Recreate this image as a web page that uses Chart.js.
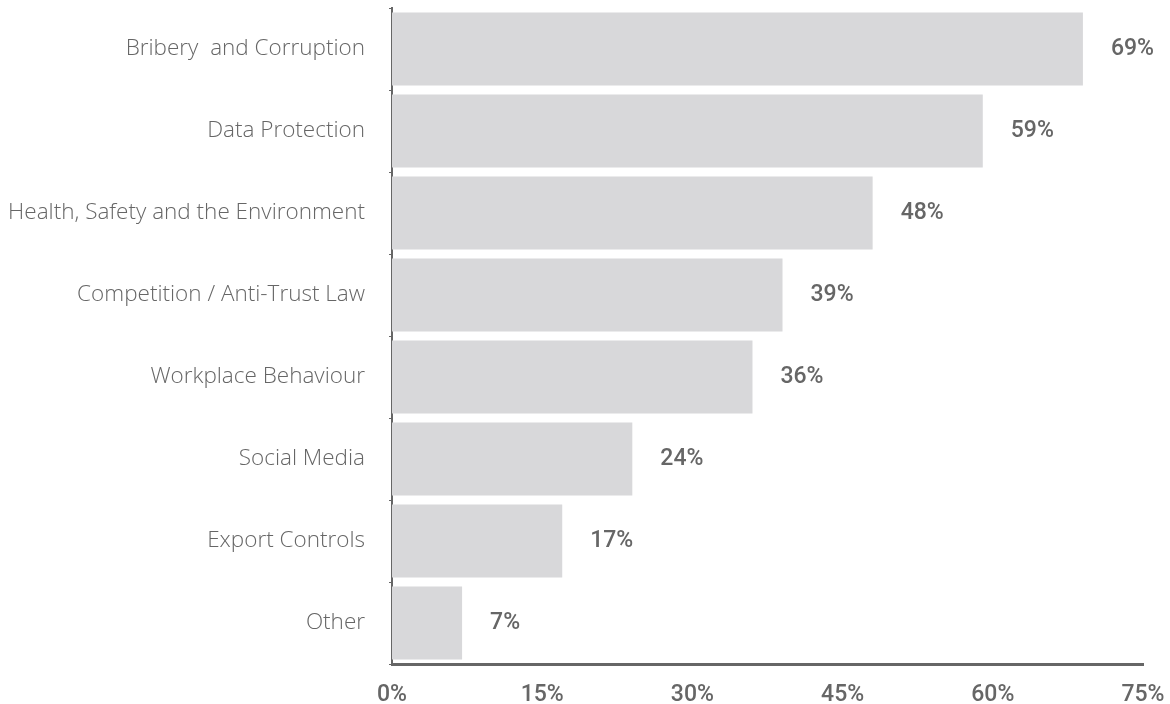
<!DOCTYPE html>
<html>
<head>
<meta charset="utf-8">
<script src="https://cdn.jsdelivr.net/npm/chart.js@4/dist/chart.umd.min.js"></script>
<style>
  html, body { margin: 0; padding: 0; background: #fff; overflow: hidden; }
  canvas { display: block; }
</style>
</head>
<body>
<canvas id="chart" width="1170" height="704"></canvas>
<script>
const categories = [
  'Bribery  and Corruption',
  'Data Protection',
  'Health, Safety and the Environment',
  'Competition / Anti-Trust Law',
  'Workplace Behaviour',
  'Social Media',
  'Export Controls',
  'Other'
]
const values = [69, 59, 48, 39, 36, 24, 17, 7]
const xTicks = [0, 15, 30, 45, 60, 75]

const gray = '#666666'

// value labels to the right of each bar
const valueLabels = {
  id: 'valueLabels',
  afterDatasetsDraw(chart) {
    const ctx = chart.ctx
    const meta = chart.getDatasetMeta(0)
    ctx.save()
    ctx.font = '500 23px Roboto'
    ctx.fillStyle = gray
    ctx.textAlign = 'left'
    ctx.textBaseline = 'middle'
    meta.data.forEach((bar, i) => {
      ctx.fillText(values[i] + '%', bar.x + 28, bar.y)
    })
    ctx.restore()
  }
}

new Chart(document.getElementById('chart'), {
  type: 'bar',
  data: {
    labels: categories,
    datasets: [{
      data: values,
      backgroundColor: '#d8d8da',
      borderWidth: 0,
      barPercentage: 0.89,
      categoryPercentage: 1
    }]
  },
  plugins: [valueLabels],
  options: {
    indexAxis: 'y',
    responsive: false,
    animation: false,
    layout: { padding: { top: 8, right: 27, left: 0, bottom: 0 } },
    plugins: {
      legend: { display: false },
      tooltip: { enabled: false }
    },
    scales: {
      x: {
        min: 0,
        max: 75,
        afterBuildTicks: s => { s.ticks = xTicks.map(v => ({ value: v })) },
        afterFit: s => {
          s.height = 40
          s.paddingLeft = 0
          s.paddingRight = 0
        },
        grid: { display: false },
        border: { display: true, color: gray, width: 3 },
        ticks: {
          color: gray,
          font: { family: 'Roboto', size: 23, weight: '500' },
          padding: 9,
          callback: v => v + '%'
        }
      },
      y: {
        afterFit: s => {
          s.width = 392
          s.paddingTop = 0
          s.paddingBottom = 0
        },
        grid: { display: true, drawOnChartArea: false, tickLength: 3, color: gray, offset: true },
        border: { display: true, color: gray, width: 2 },
        ticks: {
          color: gray,
          font: { family: 'Open Sans', size: 22.5, weight: '300' },
          padding: 24
        }
      }
    }
  }
})
</script>
</body>
</html>
